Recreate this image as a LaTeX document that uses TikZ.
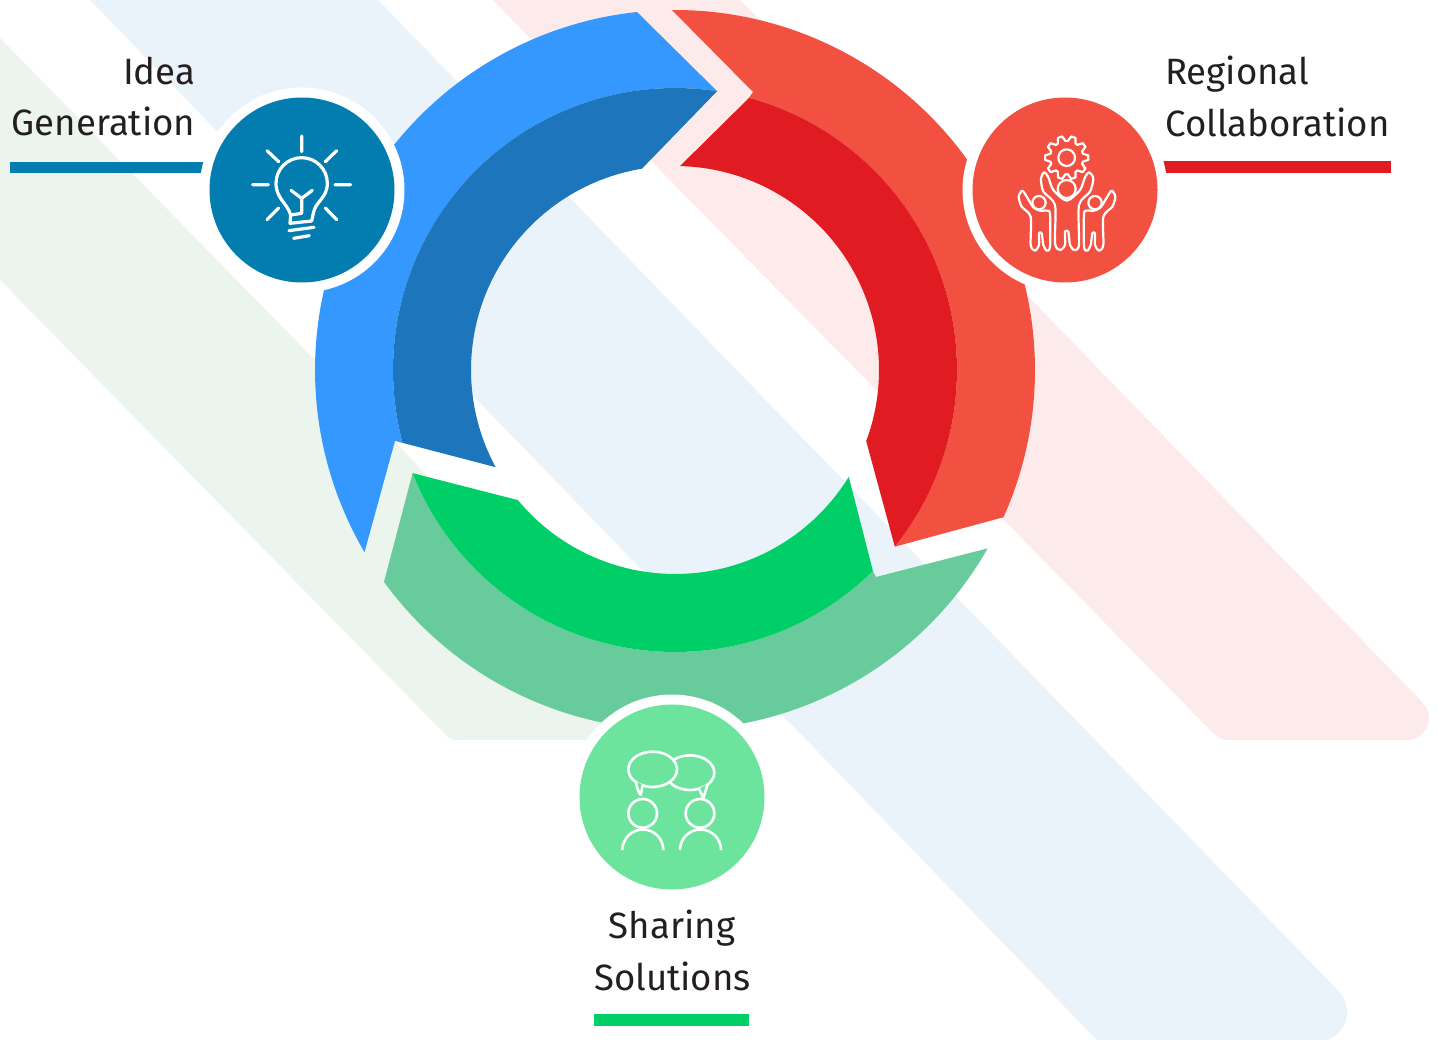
\documentclass[tikz,border=0pt]{standalone}
\usepackage{fontspec}
\setmainfont{Fira Sans}
\definecolor{bandB}{HTML}{EAF3FA}
\definecolor{bandR}{HTML}{FDEBEB}
\definecolor{bandG}{HTML}{EBF5EE}
\definecolor{blueL}{HTML}{3598FE}
\definecolor{blueD}{HTML}{1D75BC}
\definecolor{redL}{HTML}{F25041}
\definecolor{redD}{HTML}{E01C22}
\definecolor{greenL}{HTML}{67CB9B}
\definecolor{greenD}{HTML}{00CE66}
\definecolor{discB}{HTML}{037DB0}
\definecolor{discG}{HTML}{6CE49D}
\definecolor{inkT}{HTML}{231F20}
\tikzset{
  disc/.style={circle,inner sep=0pt,minimum size=185pt,fill=#1},
  halo/.style={circle,inner sep=0pt,minimum size=205pt,fill=white},
  lab/.style={font=\fontsize{36.6}{37}\selectfont,text=inkT,inner sep=0pt,anchor=base},
  icoA/.style={white,line width=3.2pt,line cap=round,line join=round},
  icoB/.style={white,line width=2.2pt,line cap=round,line join=round},
  icoC/.style={white,line width=2.6pt,line cap=butt,line join=round},
}
\begin{document}
\begin{tikzpicture}[x=1pt,y=1pt,yscale=-1]
\useasboundingbox (0,0) rectangle (1439,1040);
\clip (0,0) rectangle (1439,1040);
% background bands
\fill[bandB] (90,0) -- (1092,1035) .. controls (1097,1040) and (1100,1042) .. (1105,1042) -- (1317,1042) arc[start angle=90,end angle=-44,radius=30] -- (378,0) -- cycle;
\fill[bandR] (493,0) -- (1213,733) .. controls (1218,738) and (1223,740) .. (1230,740) -- (1407,740) arc[start angle=90,end angle=-44.2,radius=22] -- (740,0) -- cycle;
\fill[bandG] (0,38) -- (686,740) -- (458,740) .. controls (452,740) and (448,738) .. (445,734) -- (0,280) -- cycle;
% bars
\fill[discB] (10,162.5) rectangle (230,173);
\fill[redD] (1140,161.5) rectangle (1391,173);
\fill[greenD] (594,1014) rectangle (749,1026);
% ring
\begin{scope}[shift={(675,370)}]
\fill[blueL] (263.94:360) arc[start angle=263.94,end angle=149.6,radius=360] -- (-280,71) -- (165.03:282) arc[start angle=165.03,end angle=278.59,radius=282] -- cycle;
\fill[blueD] (278.59:282) arc[start angle=278.59,end angle=165.03,radius=282] -- (151.55:204) arc[start angle=151.55,end angle=260.68,radius=204] -- cycle;
\fill[redL] (269.52:360) arc[start angle=269.52,end angle=384.14,radius=360] -- (398.79:282) arc[start angle=398.79,end angle=285.22,radius=282] -- (78,-278) -- cycle;
\fill[redD] (285.22:282) arc[start angle=285.22,end angle=398.79,radius=282] -- (380.39:204) arc[start angle=380.39,end angle=271.4,radius=204] -- cycle;
\fill[greenL] (29.7:360) arc[start angle=29.7,end angle=143.93,radius=360] -- (158.54:282) arc[start angle=158.54,end angle=45.43,radius=282] -- (201,207) -- cycle;
\fill[greenD] (158.54:282) arc[start angle=158.54,end angle=45.43,radius=282] -- (31.59:204) arc[start angle=31.59,end angle=140.38,radius=204] -- cycle;
\end{scope}
% discs
\node[halo] (ideaHalo) at (302,190) {};
\node[disc=discB] (idea) at (302,190) {};
\node[halo] (regionHalo) at (1065,190) {};
\node[disc=redL] (region) at (1065,190) {};
\node[halo] (shareHalo) at (672,797) {};
\node[disc=discG] (share) at (672,797) {};
% bulb icon
\begin{scope}[shift={(200,85)},scale=1/3]
\draw[icoA] (305,153)--(305,200) (410,197)--(376,230) (405,299)--(452,299) (376,369)--(410,404) (236,369)--(201,404) (158,299)--(205,299) (201,197)--(236,230);
\draw[icoA] (270,415) -- (272,390) .. controls (262,355) and (228,340) .. (228,295) arc[start angle=180,end angle=360,radius=77] .. controls (382,340) and (345,350) .. (340,385) -- (335,408) -- cycle;
\draw[icoA] (272,390) -- (305,385) -- (305,340) -- (273,316) (305,340) -- (337,316);
\draw[icoA] (267,437) -- (342,427) (281,460) -- (328,452);
\end{scope}
% team icon
\begin{scope}[shift={(965,90)},scale=1/3]
\begin{scope}[shift={(305,203)}]
\draw[icoB] \foreach \a in {0,36,...,324}{(\a-6:65)--(\a+6:65)--(\a+14:50)--(\a+22:50)--(\a+30:65)};
\draw[icoB] (0,0) circle[radius=25];
\end{scope}
\draw[icoB] (305,297) circle[radius=27];
\draw[icoB] plot[smooth cycle,tension=0.45] coordinates {(238,247) (228,265) (235,305) (270,345) (270,460) (285,480) (300,465) (300,425) (310,425) (315,465) (328,480) (342,465) (342,345) (375,305) (385,265) (372,247) (360,262) (345,300) (305,332) (265,300) (250,262)};
\draw[icoB] (222,338) circle[radius=20];
\draw[icoB] plot[smooth cycle,tension=0.45] coordinates {(172,302) (161,320) (170,350) (197,380) (197,465) (210,482) (222,465) (222,430) (230,430) (235,465) (245,482) (255,470) (255,372) (246,362) (225,362) (205,352) (185,320)};
\draw[icoB] (390,338) circle[radius=20];
\draw[icoB] plot[smooth cycle,tension=0.45] coordinates {(440,302) (451,320) (442,350) (415,380) (415,465) (402,482) (390,465) (390,430) (382,430) (377,465) (367,482) (357,470) (357,372) (366,362) (387,362) (407,352) (427,320)};
\end{scope}
% conversation icon
\begin{scope}[shift={(575,700)},scale=1/3]
\draw[icoC,fill=discG] (345,218) ellipse[x radius=73,y radius=52];
\draw[icoC,fill=discG] (372,266) -- (385,295) -- (398,252);
\draw[icoC,fill=discG] (233,208) ellipse[x radius=73,y radius=53];
\draw[icoC,fill=discG] (183,243) .. controls (183,260) and (190,275) .. (197,285) -- (203,256);
\draw[icoC] (203,340) circle[radius=43];
\draw[icoC] (375,340) circle[radius=43];
\draw[icoC] (142,450) arc[start angle=180,end angle=360,radius=61.5];
\draw[icoC] (315,450) arc[start angle=180,end angle=360,radius=61.5];
\end{scope}
% labels
\node[lab,anchor=base east] (t1) at (195.5,85) {Idea};
\node[lab,anchor=base east] (t2) at (195.5,136) {Generation};
\node[lab,anchor=base west] (t3) at (1165,85) {Regional};
\node[lab,anchor=base west] (t4) at (1165,137) {Collaboration};
\node[lab] (t5) at (672,938) {Sharing};
\node[lab] (t6) at (672.5,990) {Solutions};
\end{tikzpicture}
\end{document}
